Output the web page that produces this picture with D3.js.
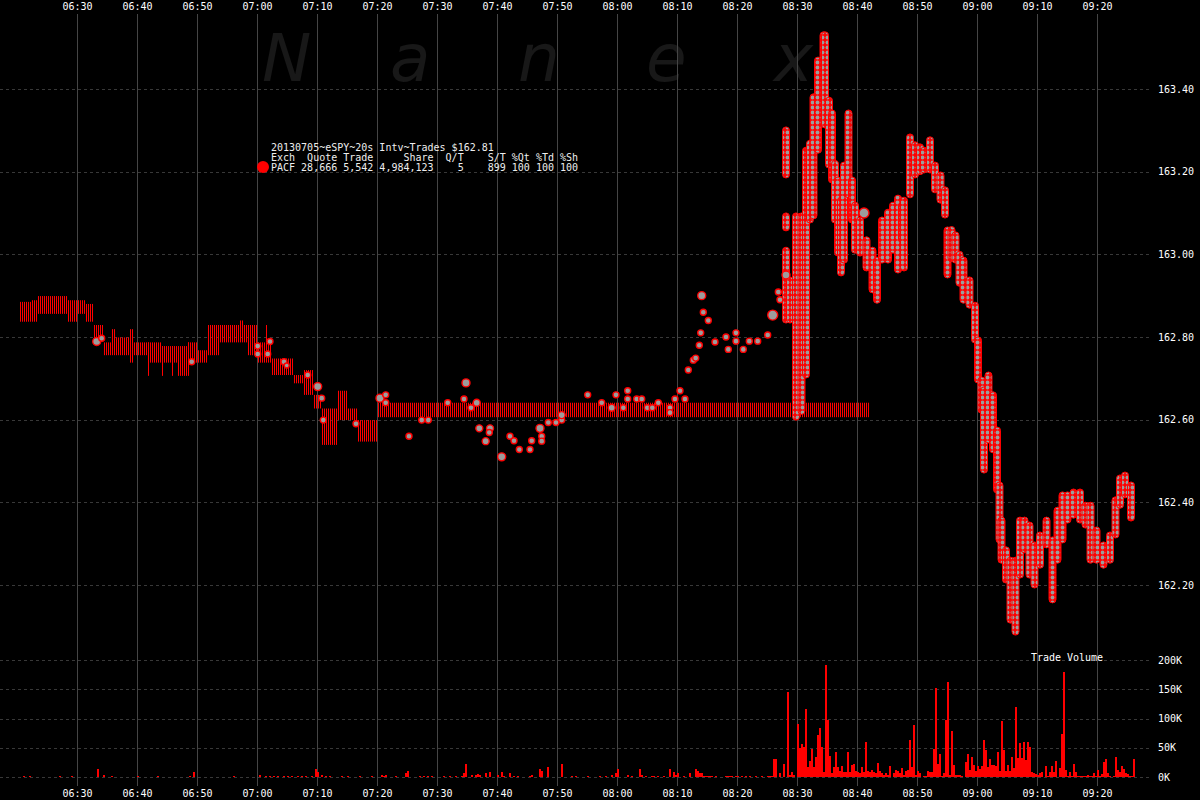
<!DOCTYPE html>
<html><head><meta charset="utf-8">
<script src="https://cdn.jsdelivr.net/npm/d3@7"></script>
<style>
html,body{margin:0;padding:0;background:#000;}
svg{display:block;}
text{font-family:"DejaVu Sans Mono",monospace;}
</style></head><body>
<svg id="c" width="1200" height="800"></svg>
<script>
// ---------- DATA ----------
const timeTicks = ["06:30","06:40","06:50","07:00","07:10","07:20","07:30","07:40","07:50","08:00","08:10","08:20","08:30","08:40","08:50","09:00","09:10","09:20"];
const priceTicks = [162.20,162.40,162.60,162.80,163.00,163.20,163.40];
const volTicks = [0,50,100,150,200];
const watermark = ["N","a","n","e","x"];
const legendLines = [
  "20130705~eSPY~20s Intv~Trades $162.81",
  "Exch  Quote Trade     Share  Q/T    S/T %Qt %Td %Sh",
  "PACF 28,666 5,542 4,984,123    5    899 100 100 100"
];

// early quote ranges (20s bars drawn as stripes)
const quoteStart = ["06:20:30","06:22:30","06:23:20","06:28:30","06:30:00","06:31:20","06:32:50","06:34:30","06:35:50","06:36:20","06:38:50","06:39:20","06:41:40","06:41:50","06:44:00","06:44:10","06:45:40","06:46:40","06:48:20","06:48:30","06:50:00","06:51:40","06:53:40","06:57:00","06:57:40","06:58:30","07:00:00","07:01:30","07:02:30","07:06:00","07:07:50","07:09:20","07:10:50","07:13:20","07:15:10","07:16:50"];
const quoteEnd   = ["06:22:30","06:23:20","06:28:30","06:30:00","06:31:20","06:32:50","06:34:30","06:35:50","06:36:20","06:38:50","06:39:20","06:41:40","06:44:00","06:42:10","06:46:40","06:44:30","06:46:00","06:48:20","06:50:00","06:48:50","06:51:40","06:53:40","06:57:00","06:57:40","06:58:30","07:00:00","07:02:30","07:01:50","07:06:00","07:07:50","07:09:20","07:10:50","07:13:20","07:15:10","07:16:50","07:20:00"];
const quoteHigh  = [162.885,162.889,162.899,162.889,162.889,162.880,162.829,162.787,162.819,162.799,162.819,162.787,162.787,162.787,162.778,162.778,162.778,162.778,162.787,162.787,162.768,162.829,162.829,162.840,162.829,162.829,162.787,162.829,162.748,162.708,162.720,162.660,162.627,162.670,162.627,162.599];
const quoteLow   = [162.837,162.837,162.856,162.837,162.856,162.837,162.789,162.756,162.756,162.756,162.738,162.756,162.738,162.706,162.738,162.706,162.706,162.706,162.738,162.706,162.738,162.756,162.787,162.787,162.787,162.756,162.738,162.787,162.708,162.688,162.660,162.627,162.539,162.599,162.599,162.547];

// stale quote band
const bandStart = "07:20:00", bandEnd = "08:42:10", bandHigh = 162.641, bandLow = 162.606;

// dense trade trail (per ~20-40s columns)
const trailTime = ["08:28:10","08:28:10","08:28:10","08:28:50","08:29:50","08:30:45","08:31:30","08:32:10","08:32:45","08:33:30","08:34:25","08:34:40","08:35:20","08:35:50","08:36:20","08:36:50","08:37:20","08:37:50","08:38:35","08:39:10","08:39:40","08:40:30","08:41:35","08:42:35","08:43:20","08:44:10","08:45:10","08:46:00","08:46:50","08:47:30","08:47:50","08:48:50","08:49:40","08:50:30","08:51:10","08:52:10","08:53:00","08:53:55","08:54:40","08:55:05","08:55:45","08:56:25","08:57:05","08:57:45","08:58:45","08:59:40","09:00:10","09:00:45","09:01:10","09:01:55","09:02:40","09:03:20","09:03:45","09:04:05","09:04:50","09:05:35","09:06:25","09:07:10","09:07:55","09:08:45","09:09:35","09:10:30","09:11:35","09:12:35","09:13:25","09:14:15","09:15:05","09:16:05","09:17:10","09:18:05","09:18:55","09:19:55","09:21:05","09:22:10","09:23:05","09:23:50","09:24:40","09:25:40"];
const trailHigh = [163.301,163.093,163.010,162.938,163.093,163.093,163.252,163.269,163.381,163.470,163.531,163.531,163.373,163.342,163.220,163.180,163.131,163.216,163.342,163.180,163.119,163.083,163.035,163.010,162.986,163.083,163.102,163.119,163.136,163.119,163.131,163.284,163.265,163.260,163.252,163.277,163.216,163.192,163.156,163.059,163.060,163.047,163.000,162.986,162.938,162.877,162.793,162.696,162.672,162.708,162.660,162.575,162.442,162.357,162.285,162.260,162.260,162.357,162.357,162.345,162.297,162.321,162.357,162.309,162.381,162.418,162.418,162.425,162.425,162.393,162.393,162.333,162.297,162.321,162.406,162.459,162.466,162.442];
const trailLow  = [163.192,163.064,162.841,162.841,162.606,162.620,162.708,163.083,163.093,163.252,163.373,163.313,163.216,163.180,163.083,163.003,162.955,162.986,163.144,163.083,163.010,163.003,162.967,162.914,162.889,162.986,162.986,163.010,162.962,163.035,162.967,163.144,163.192,163.200,163.204,163.204,163.156,163.131,163.095,162.950,162.990,162.986,162.930,162.889,162.877,162.793,162.696,162.623,162.478,162.551,162.527,162.430,162.309,162.260,162.212,162.115,162.086,162.224,162.285,162.224,162.200,162.248,162.297,162.164,162.260,162.309,162.357,162.369,162.357,162.345,162.260,162.260,162.248,162.260,162.321,162.393,162.418,162.362];

// individual trades
const dotTime = ["06:33:17","06:34:07","06:49:07","07:00:07","07:00:07","07:01:47","07:02:10","07:04:30","07:04:57","07:08:27","07:10:07","07:10:47","07:11:03","07:16:30","07:20:30","07:21:27","07:21:27","07:25:20","07:27:27","07:28:33","07:31:47","07:34:50","07:34:30","07:35:40","07:36:37","07:37:03","07:38:50","07:38:43","07:38:07","07:42:10","07:42:50","07:43:43","07:40:47","07:45:30","07:45:47","07:47:10","07:47:27","07:47:27","07:48:33","07:49:50","07:50:47","07:50:47","07:55:07","07:57:27","07:59:07","07:59:50","08:01:03","08:01:47","08:01:47","08:03:17","08:04:07","08:05:03","08:05:53","08:06:53","08:08:50","08:08:50","08:09:40","08:10:30","08:11:20","08:11:53","08:12:43","08:13:07","08:13:43","08:13:57","08:14:07","08:14:23","08:15:13","08:16:20","08:18:10","08:18:33","08:19:50","08:19:50","08:21:03","08:22:03","08:23:27","08:25:07","08:25:57","08:26:53","08:27:10","08:28:10","08:41:10"];
const dotPrice = [162.789,162.797,162.740,162.778,162.759,162.759,162.789,162.740,162.731,162.708,162.680,162.652,162.599,162.590,162.652,162.660,162.641,162.560,162.599,162.599,162.641,162.689,162.650,162.629,162.641,162.579,162.579,162.569,162.548,162.560,162.549,162.528,162.510,162.528,162.549,162.579,162.560,162.548,162.593,162.593,162.599,162.611,162.660,162.641,162.629,162.660,162.629,162.670,162.650,162.650,162.650,162.629,162.629,162.641,162.629,162.617,162.650,162.670,162.650,162.720,162.744,162.749,162.780,162.810,162.900,162.860,162.840,162.788,162.800,162.770,162.810,162.790,162.770,162.790,162.790,162.805,162.853,162.909,162.890,162.950,163.100];
const dotSize = [4,3,3,3,3,3,3,3,2.5,3,4,3,3,3,4,3,3,3,3,3,3,4,3,3,3.5,3.5,3.5,3,3.5,3,3,3,4,3,3,4,3,3,3,3,3,3.5,3,3,3.5,3,3,3,3,3,3,3,3,3,3,3,3,3,3,3,3,3,3,3,4,3,3,3,3,3,3,3,3,3,3,3,5,3,3,4,5];

// volume (thousands of shares per 20s)
const volTime = ["06:21:00","06:22:00","06:27:00","06:29:00","06:33:20","06:34:20","06:35:40","06:40:00","06:43:20","06:48:40","06:49:20","06:56:00","07:00:20","07:01:20","07:02:00","07:02:40","07:03:20","07:04:20","07:05:00","07:05:40","07:06:40","07:07:20","07:08:00","07:09:00","07:09:40","07:10:00","07:10:40","07:11:20","07:12:00","07:14:00","07:15:00","07:17:00","07:19:00","07:20:40","07:21:00","07:21:20","07:23:00","07:24:40","07:25:00","07:27:00","07:27:40","07:28:20","07:29:00","07:31:00","07:32:00","07:33:00","07:34:00","07:34:20","07:34:40","07:35:40","07:36:20","07:36:40","07:37:00","07:38:00","07:38:40","07:40:00","07:40:40","07:41:00","07:42:00","07:42:40","07:43:20","07:45:20","07:45:40","07:47:00","07:47:20","07:48:20","07:50:40","07:52:20","07:53:00","07:55:00","07:57:00","07:58:00","07:59:00","07:59:40","08:00:00","08:01:40","08:02:20","08:03:40","08:04:00","08:04:40","08:05:40","08:06:00","08:06:40","08:07:40","08:08:40","08:09:20","08:09:40","08:10:00","08:11:00","08:12:00","08:13:00","08:13:20","08:13:40","08:14:00","08:14:20","08:14:40","08:15:00","08:15:20","08:15:40","08:16:20","08:18:00","08:18:20","08:18:40","08:19:00","08:19:40","08:20:00","08:20:40","08:21:20","08:22:00","08:23:00","08:24:00"];
const volK = [1,1,1,1,14,4,1,1,1,1,9,1,4,1,1,1,1,1,1,1,1,1,1,1,14,9,3,1,1,1,1,1,1,4,1,4,1,7,11,2,1,1,1,1,1,1,2,7,23,4,3,5,4,6,8,4,8,2,6,2,2,2,4,14,11,17,23,1,1,2,1,1,4,6,14,4,1,13,4,2,2,2,2,1,14,9,3,7,2,7,14,11,7,7,1,1,1,1,1,2,1,1,1,1,1,1,1,1,1,1,1];
const volLateStart = "08:25:00";
const volLateK = [2,2,2,31,30,0,6,0,23,0,146,3,8,3,0,91,50,57,51,117,17,28,48,17,34,72,83,52,8,192,98,36,6,17,43,17,10,18,8,8,43,8,21,23,11,8,6,17,8,59,10,8,12,8,6,24,10,6,3,6,3,18,0,6,12,11,6,15,3,10,12,64,17,89,3,11,7,0,1,1,11,8,8,48,152,23,40,1,6,97,163,3,78,21,3,3,3,1,0,26,40,12,35,21,11,18,14,18,64,46,17,30,21,20,18,43,11,95,46,10,21,10,34,15,120,32,58,32,59,29,59,51,9,6,5,3,6,9,0,18,2,8,19,9,28,0,15,73,179,12,2,9,2,23,9,2,1,2,1,1,3,1,1,6,1,12,1,5,25,31,6,1,0,2,34,12,8,19,14,6,5,2,1,31];

// ---------- DRAW ----------
const T = s => { const p = s.split(":").map(Number); return new Date(2013, 6, 5, p[0], p[1], p[2] || 0); };
const svg = d3.select("#c");
svg.append("rect").attr("width",1200).attr("height",800).attr("fill","#000");

const x = d3.scaleTime().domain([T("06:30"), T("09:20")]).range([77, 1097]);
const y = d3.scaleLinear().domain([162.20, 163.40]).range([585, 89]);
const vy = d3.scaleLinear().domain([0, 200]).range([777, 660]);

const defs = svg.append("defs");
const st = defs.append("pattern").attr("id","stripes").attr("patternUnits","userSpaceOnUse").attr("width",2).attr("height",4);
st.append("rect").attr("x",0).attr("y",0).attr("width",1).attr("height",4).attr("fill","#ff0000");
const dp = defs.append("pattern").attr("id","dots").attr("patternUnits","userSpaceOnUse").attr("width",5).attr("height",5);
dp.append("rect").attr("width",5).attr("height",5).attr("fill","#ff0000");
dp.append("circle").attr("cx",2.5).attr("cy",2.5).attr("r",1.9).attr("fill","#9c9c9c");

// watermark
svg.append("g").selectAll("text").data(watermark).join("text")
  .attr("x",(d,i)=>262+i*128).attr("y",81)
  .style("font-family","'DejaVu Sans',sans-serif").style("font-style","italic")
  .attr("font-size",66).attr("fill","#181818").text(d=>d);

// horizontal gridlines
const grid = svg.append("g");
grid.selectAll(".hp").data(priceTicks).join("line")
  .attr("x1",0).attr("x2",1152).attr("y1",d=>Math.round(y(d))+0.5).attr("y2",d=>Math.round(y(d))+0.5)
  .attr("stroke","#383838").attr("stroke-dasharray","3,3");
grid.selectAll(".hv").data(volTicks).join("line")
  .attr("x1",0).attr("x2",1152).attr("y1",d=>Math.round(vy(d))+0.5).attr("y2",d=>Math.round(vy(d))+0.5)
  .attr("stroke","#383838").attr("stroke-dasharray","3,3");
// vertical gridlines
grid.selectAll(".v").data(timeTicks).join("line")
  .attr("x1",d=>Math.round(x(T(d)))+0.5).attr("x2",d=>Math.round(x(T(d)))+0.5)
  .attr("y1",14).attr("y2",786).attr("stroke","#454545");

// time axes
const fmt = d3.timeFormat("%H:%M");
const axT = svg.append("g").attr("transform","translate(0,13)")
  .call(d3.axisTop(x).tickValues(timeTicks.map(T)).tickFormat(fmt).tickSize(0));
const axB = svg.append("g").attr("transform","translate(0,787)")
  .call(d3.axisBottom(x).tickValues(timeTicks.map(T)).tickFormat(fmt).tickSize(0));
[axT, axB].forEach(a => {
  a.select(".domain").remove();
  a.selectAll("text").attr("fill","#fff").attr("font-size",10).style("font-family","'DejaVu Sans Mono',monospace");
});

// price axis labels
const axR = svg.append("g").attr("transform","translate(1158,0)")
  .call(d3.axisRight(y).tickValues(priceTicks).tickFormat(d3.format(".2f")).tickSize(0).tickPadding(0));
const axV = svg.append("g").attr("transform","translate(1158,0)")
  .call(d3.axisRight(vy).tickValues(volTicks).tickFormat(d=>d+"K").tickSize(0).tickPadding(0));
[axR, axV].forEach(a => {
  a.select(".domain").remove();
  a.selectAll("text").attr("fill","#fff").attr("font-size",10).style("font-family","'DejaVu Sans Mono',monospace");
});
svg.append("text").attr("x",1067).attr("y",661).attr("text-anchor","middle")
  .attr("fill","#fff").attr("font-size",10).text("Trade Volume");

// quote ranges (stripes)
const plot = svg.append("g");
plot.selectAll(".q").data(quoteStart).join("rect")
  .attr("x",(d)=>x(T(d)))
  .attr("width",(d,i)=>x(T(quoteEnd[i]))-x(T(d)))
  .attr("y",(d,i)=>y(quoteHigh[i]))
  .attr("height",(d,i)=>y(quoteLow[i])-y(quoteHigh[i]))
  .attr("fill","url(#stripes)");
plot.append("rect")
  .attr("x",x(T(bandStart))).attr("width",x(T(bandEnd))-x(T(bandStart)))
  .attr("y",y(bandHigh)).attr("height",y(bandLow)-y(bandHigh))
  .attr("fill","url(#stripes)");

// trail columns
plot.selectAll(".tr").data(trailTime).join("rect")
  .attr("x",d=>x(T(d))-3.5).attr("width",7)
  .attr("y",(d,i)=>y(trailHigh[i])-3)
  .attr("height",(d,i)=>y(trailLow[i])-y(trailHigh[i])+6)
  .attr("rx",3.5)
  .attr("fill","url(#dots)").attr("stroke","#ff0000").attr("stroke-width",1);

// individual trades
plot.selectAll(".dt").data(dotTime).join("circle")
  .attr("cx",d=>x(T(d))).attr("cy",(d,i)=>y(dotPrice[i])).attr("r",(d,i)=>dotSize[i])
  .attr("fill","#9c9c9c").attr("stroke","#ff0000").attr("stroke-width",1.4);

// volume
const vol = svg.append("g").attr("shape-rendering","crispEdges");
const vbar = (t,k) => {
  const h = Math.max(1, vy(0)-vy(k));
  vol.append("rect").attr("x",x(t)).attr("width",x(new Date(+t+20000))-x(t))
    .attr("y",vy(0)-h).attr("height",h).attr("fill","#ff0000");
};
volTime.forEach((d,i)=>vbar(T(d), volK[i]));
volLateK.forEach((k,i)=>{ if(k>0) vbar(new Date(+T(volLateStart)+i*20000), k); });

// legend
const lg = svg.append("g");
lg.append("circle").attr("cx",263).attr("cy",167).attr("r",6).attr("fill","#ff0000");
lg.selectAll("text").data(legendLines).join("text")
  .attr("x",271).attr("y",(d,i)=>151+i*10)
  .attr("fill","#eee").attr("font-size",10).style("white-space","pre")
  .text(d=>d);
</script>
</body></html>
